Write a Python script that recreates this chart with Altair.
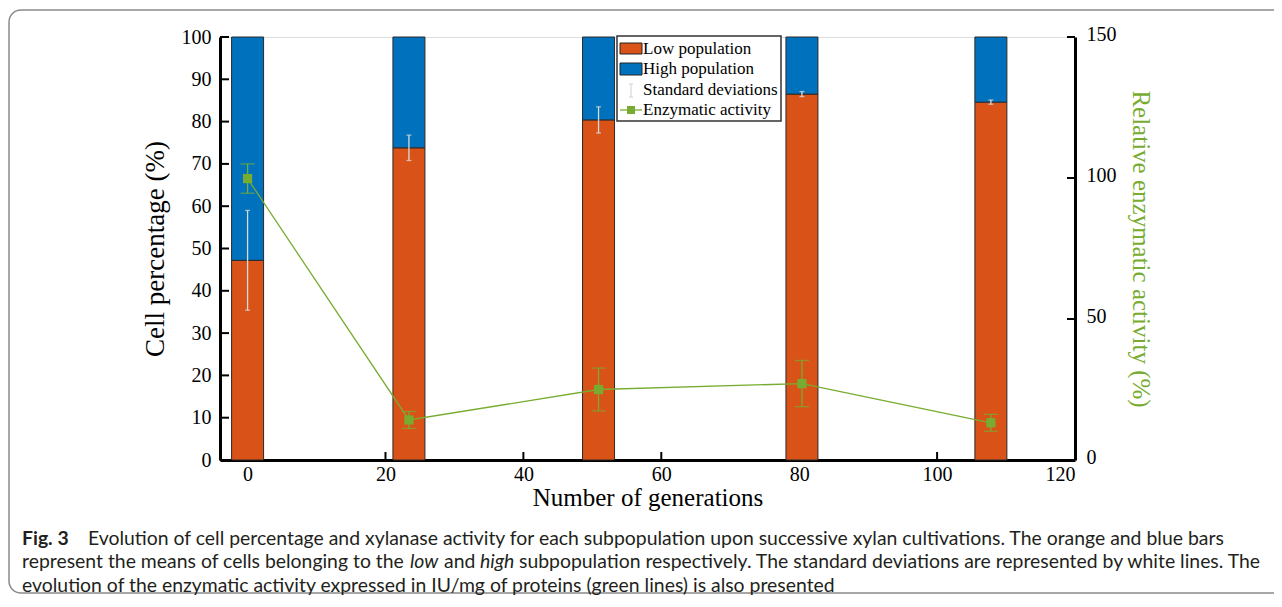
import altair as alt
import pandas as pd

# ---------------- data ----------------
generations = [0, 23.4, 50.9, 80.4, 107.8]
low_population = [47.2, 73.8, 80.4, 86.5, 84.6]
low_sd = [11.8, 3.0, 3.1, 0.6, 0.5]
full_scale = [100, 100, 100, 100, 100]
enzymatic_activity = [99.8, 14.2, 25.0, 27.1, 13.2]
enzymatic_sd = [5.2, 3.0, 7.6, 8.2, 3.0]

x_ticks = [0, 20, 40, 60, 80, 100, 120]
left_ticks = [0, 10, 20, 30, 40, 50, 60, 70, 80, 90, 100]
right_ticks = [0, 50, 100, 150]

legend_labels = ["Low population", "High population", "Standard deviations", "Enzymatic activity"]

caption_bold = "Fig. 3"
caption_l1 = ("Evolution of cell percentage and xylanase activity for each subpopulation upon "
              "successive xylan cultivations. The orange and blue bars")
caption_l2a = "represent the means of cells belonging to the"
caption_l2_low = "low"
caption_l2_and = "and"
caption_l2_high = "high"
caption_l2b = "subpopulation respectively. The standard deviations are represented by white lines. The"
caption_l3 = "evolution of the enzymatic activity expressed in IU/mg of proteins (green lines) is also presented"

# ---------------- style ----------------
W, H = 855, 423
ORANGE = "#D95319"
BLUE = "#0072BD"
GREEN = "#77AC30"
SD_COLOR = "#DADADA"
SERIF = "Liberation Serif"
SANS = "Lato"
CAP_SIZE = 19.4
CAP_COLOR = "#231F20"

df = pd.DataFrame({
    "gen": generations,
    "low": low_population,
    "sd": low_sd,
    "top": full_scale,
    "act": enzymatic_activity,
    "act_sd": enzymatic_sd,
})

xscale = alt.Scale(domain=[-4, 120], nice=False, zero=False, padding=0)
yl_scale = alt.Scale(domain=[0, 100], nice=False, padding=0)
yr_scale = alt.Scale(domain=[0, 150], nice=False, padding=0)

x_axis = alt.Axis(orient="bottom", values=x_ticks, ticks=False, tickSize=0, grid=False,
                  domainWidth=3, domainColor="black", labelFont=SERIF, labelFontSize=20,
                  labelColor="black", labelPadding=4, title="Number of generations",
                  titleFont=SERIF, titleFontSize=25, titleFontWeight="normal",
                  titleColor="black", titlePadding=1)
yl_axis = alt.Axis(orient="left", values=left_ticks, ticks=False, tickSize=0, grid=False,
                   domainWidth=3, domainColor="black", labelFont=SERIF, labelFontSize=20,
                   labelColor="black", labelPadding=9, title="Cell percentage (%)",
                   titleFont=SERIF, titleFontSize=27, titleFontWeight="normal",
                   titleColor="black", titlePadding=12)
yr_axis = alt.Axis(orient="right", values=right_ticks, ticks=False, tickSize=0, grid=False,
                   domainWidth=3, domainColor="black", labelFont=SERIF, labelFontSize=20,
                   labelColor="black", labelPadding=11, labelOffset=-3,
                   title="Relative enzymatic activity (%)", titleFont=SERIF,
                   titleFontSize=25, titleFontWeight="normal", titleColor=GREEN,
                   titlePadding=11)

X = alt.X("gen:Q", scale=xscale, axis=x_axis)

base = alt.Chart(df)

# ---- left (cell percentage) group ----
xt = alt.Chart(pd.DataFrame({"gen": x_ticks})).mark_rule(color="black", strokeWidth=2).encode(
    x=X, y=alt.value(H), y2=alt.value(H - 8))
lt = alt.Chart(pd.DataFrame({"v": left_ticks})).mark_rule(color="black", strokeWidth=2).encode(
    y=alt.Y("v:Q", scale=yl_scale, axis=yl_axis), x=alt.value(0), x2=alt.value(9))
low_bars = base.mark_bar(size=32, color=ORANGE, stroke="#2a2a2a", strokeWidth=1).encode(
    x=X, y=alt.Y("low:Q", scale=yl_scale, axis=yl_axis))
high_bars = base.mark_bar(size=32, color=BLUE, stroke="#2a2a2a", strokeWidth=1).encode(
    x=X, y=alt.Y("low:Q", scale=yl_scale, axis=yl_axis), y2="top:Q")
sd_bars = base.mark_errorbar(ticks=True, size=5, thickness=1.3, color=SD_COLOR).encode(
    x=X, y=alt.Y("low:Q", scale=yl_scale, axis=yl_axis), yError="sd:Q")

left = alt.layer(xt, lt, low_bars, high_bars, sd_bars)

# ---- right (enzymatic activity) group ----
YR = alt.Y("act:Q", scale=yr_scale, axis=yr_axis)
rt = alt.Chart(pd.DataFrame({"act": right_ticks})).mark_rule(color="black", strokeWidth=2).encode(
    y=YR, x=alt.value(W), x2=alt.value(W - 8))
act_line = base.mark_line(color=GREEN, strokeWidth=1.3).encode(x=X, y=YR)
act_err = base.mark_errorbar(ticks=True, size=14, thickness=1.3, color=GREEN).encode(
    x=X, y=YR, yError="act_sd:Q")
act_pts = base.mark_square(size=85, color=GREEN, opacity=1).encode(x=X, y=YR)

one = pd.DataFrame({"k": [0]})

# legend (drawn by hand)
leg_box = alt.Chart(one).mark_rect(fill="white", stroke="#333333", strokeWidth=1.5).encode(
    x=alt.value(397), x2=alt.value(561), y=alt.value(-1), y2=alt.value(84))
sw_low = alt.Chart(one).mark_rect(fill=ORANGE, stroke="#222222", strokeWidth=1).encode(
    x=alt.value(400), x2=alt.value(422), y=alt.value(6), y2=alt.value(17))
sw_high = alt.Chart(one).mark_rect(fill=BLUE, stroke="#222222", strokeWidth=1).encode(
    x=alt.value(400), x2=alt.value(422), y=alt.value(26), y2=alt.value(38))
sw_sd = alt.Chart(one).mark_rule(color=SD_COLOR, strokeWidth=1.3).encode(
    x=alt.value(411), y=alt.value(47), y2=alt.value(60))
sw_sd_t1 = alt.Chart(one).mark_rule(color=SD_COLOR, strokeWidth=1.3).encode(
    x=alt.value(409), x2=alt.value(413), y=alt.value(47))
sw_sd_t2 = alt.Chart(one).mark_rule(color=SD_COLOR, strokeWidth=1.3).encode(
    x=alt.value(409), x2=alt.value(413), y=alt.value(60))
sw_line = alt.Chart(one).mark_rule(color=GREEN, strokeWidth=1.3).encode(
    x=alt.value(400), x2=alt.value(422), y=alt.value(73))
sw_pt = alt.Chart(one).mark_square(size=64, color=GREEN, opacity=1).encode(
    x=alt.value(411), y=alt.value(73))
leg_rows = [12, 32, 53, 73]
leg_text = [
    alt.Chart(one).mark_text(align="left", baseline="middle", font=SERIF, fontSize=17,
                             color="black").encode(
        x=alt.value(423), y=alt.value(yy), text=alt.value(lab))
    for lab, yy in zip(legend_labels, leg_rows)
]

# caption + frame
frame = alt.Chart(one).mark_rect(fillOpacity=0, stroke="#8a8a8a", strokeWidth=1.5,
                                 cornerRadius=12).encode(
    x=alt.value(-211), x2=alt.value(1100), y=alt.value(-27), y2=alt.value(556))


def cap(txt, xx, yy, align="left", weight="normal", style="normal"):
    return alt.Chart(one).mark_text(align=align, baseline="middle", font=SANS, fontSize=CAP_SIZE,
                                    fontWeight=weight, fontStyle=style,
                                    color=CAP_COLOR).encode(
        x=alt.value(xx), y=alt.value(yy), text=alt.value(txt))


captions = [
    cap(caption_bold, -198, 502, weight="bold"),
    cap(caption_l1, -132, 502),
    cap(caption_l2a, -198, 525),
    cap(caption_l2_low, 190, 525, style="italic"),
    cap(caption_l2_and, 224, 525),
    cap(caption_l2_high, 260, 525, style="italic"),
    cap(caption_l2b, 299, 525),
    cap(caption_l3, -198, 549),
]

right = alt.layer(rt, act_line, act_err, act_pts, leg_box, sw_low, sw_high, sw_sd, sw_sd_t1,
                  sw_sd_t2, sw_line, sw_pt, *leg_text, frame, *captions)

chart = alt.layer(left, right).resolve_scale(y="independent").properties(
    width=W, height=H, autosize="none",
    padding={"left": 212, "top": 29, "right": 199, "bottom": 136},
).configure_view(stroke=None).configure(background="white")

chart.save("out.html", embed_options={"renderer": "svg", "actions": False})
